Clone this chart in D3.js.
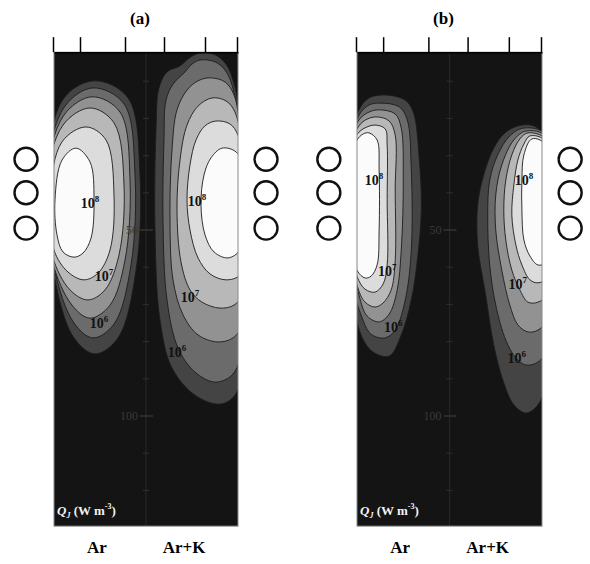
<!DOCTYPE html>
<html>
<head>
<meta charset="utf-8">
<script src="https://cdn.jsdelivr.net/npm/d3@7"></script>
<style>
  body { margin: 0; background: #fff; }
  svg { display: block; font-family: "Liberation Serif", "Times New Roman", serif; }
</style>
</head>
<body>
<div id="chart"></div>
<script>
// ---------- data ----------
const panelNames = ["(a)", "(b)"];
const gasNames = ["Ar", "Ar+K"];
const levels = [5.5, 6, 6.5, 7, 7.5, 8];          // log10 Qj of each contour, outermost first
const xTicks = [-46.5, -33, -10.5, 9, 29.5, 45.5];
const depthMajor = [50, 100];
const depthMinor = [10, 20, 30, 40, 60, 70, 80, 90, 110, 120];
const depthExtent = [2.2, 129.6];
const coilDepths = [31, 40, 49.5];
const coilX = [-60, 60];

// contour outlines, [x, depth] points, one list per level (outermost first)
const aAr = [
  [[-25.5,9.9],[-9,14.5],[-3,35.2],[-5,60.8],[-14,79],[-25.5,83.3],[-36,79],[-46,62],[-50,35.2],[-41,14.5]],
  [[-26.5,11.8],[-11,16.1],[-5.5,35.2],[-7.5,59.4],[-16,75.3],[-26.5,79],[-36,75],[-46,60],[-50,35.2],[-40.5,16.7]],
  [[-27,14.2],[-13,18.3],[-8,36.6],[-10.5,58.1],[-18,70.2],[-28,73.7],[-37,70.2],[-47,58],[-50,36.6],[-41,19.1]],
  [[-28,17.2],[-16,21.2],[-11,37.9],[-13.5,56.7],[-20.5,66.1],[-29,68.8],[-38,66.1],[-47,56.7],[-50,37.9],[-41.5,21.8]],
  [[-30,22.3],[-20,25.8],[-16,40.6],[-18,55.4],[-24,61.6],[-31,63.4],[-39,61.3],[-46,55.4],[-48,40.6],[-42,26.3]],
  [[-35,28],[-28,31.7],[-26,41.9],[-27.5,52.2],[-31.5,56.2],[-36,57.3],[-41.5,55.9],[-44.5,51.3],[-45.5,41.9],[-42,31.2]]
];
const aArK = [
  [[27,2.4],[34.5,2.9],[40,5.4],[43.5,9.7],[47,20.4],[50,55.4],[49,84.9],[44.5,94.4],[37,96.8],[24.5,94.4],[13,87.1],[7,74.2],[4.5,50],[5,23.1],[6.5,11.8],[10.5,7.5],[17,5.9],[21.5,3.8]],
  [[27,4.3],[34.5,4.8],[39.5,7],[43,11],[46,20.4],[50,55.4],[48,82.3],[43,89],[34.5,90.9],[24.5,88.2],[16,81.7],[10.5,68.8],[8.5,47.3],[9,25.8],[10,15.1],[13.5,10.8],[19.5,7.5],[23,5.4]],
  [[32,9.1],[39.5,10.2],[44,13.7],[47,23.1],[50,55.4],[48,75.5],[43.5,79],[36,80.1],[26,78.2],[18.5,72.8],[13.5,63.4],[12,47.3],[13,28.5],[15.5,17.7],[20.5,12.4],[26,9.9]],
  [[33,14.5],[40,15.3],[44.5,18.3],[48,28.5],[50,55.4],[48,67.5],[44,70.2],[37,71],[28,69.4],[22,66.1],[17.5,58.6],[15.5,44.6],[17,31.2],[20.5,21.8],[26,16.7]],
  [[35,20.7],[42,21.5],[46,24.5],[49,33.9],[50,55.4],[47,62.1],[40,63.4],[32,61.8],[26,57.5],[22,50],[20.5,41.9],[22,32.5],[25,25.8],[29.5,22]],
  [[38,28],[45,29],[49,33.9],[50,47.3],[47,55.4],[41,57.5],[34,55.9],[29.5,51.3],[27.5,43.3],[29,35.2],[32.5,30.6]]
];
const bAr = [
  [[-32,13.7],[-22,15.1],[-18,18.3],[-15,31.2],[-14,44.6],[-16,58.1],[-19,68.8],[-24,78.2],[-30,83.9],[-38,82.8],[-44,78.2],[-49,63.4],[-50,28.5],[-45,17.7],[-40,14.5]],
  [[-34,15.9],[-25,16.9],[-21,20.4],[-19,33.9],[-19,55.4],[-22,68.8],[-27,76.9],[-32,79],[-39,78],[-44,72.8],[-50,60.8],[-50,28.5],[-45,19.1],[-40,16.4]],
  [[-35,17.7],[-27,18.8],[-24,22.6],[-23,36.6],[-24,55.4],[-26,66.1],[-30,72.6],[-35,74.7],[-41,73.1],[-45,67.5],[-50,52.7],[-50,28.5],[-45,20.4],[-40,18.3]],
  [[-36,19.6],[-30,20.7],[-27,24.5],[-27,39.2],[-27,58.1],[-29,66.1],[-33,69.6],[-37,70.7],[-42,69.4],[-46,64.8],[-50,50],[-50,28.5],[-45,22],[-41,20.2]],
  [[-37,21.8],[-32,22.8],[-31,27.2],[-31,41.9],[-31,59.4],[-33,64.5],[-37,66.7],[-42,65.9],[-46,62.4],[-50,47.3],[-50,28.5],[-45,23.7],[-41,22.3]],
  [[-40,23.9],[-36,25.8],[-35,33.9],[-35,50],[-36,59.4],[-39,62.4],[-42,62.9],[-46,60.8],[-50,47.3],[-50,31.2],[-46,25.8],[-43,24.2]]
];
const bArK = [
  [[36,21.8],[43,22.3],[48,25.8],[48,90],[44,97],[38,99.2],[32,97],[27,91.1],[22,80.9],[18,67.5],[14,54],[14,43.3],[17,35.2],[22,28],[28,23.7]],
  [[37,22.6],[48,24.5],[48,82.3],[44,85.5],[38,86.3],[33,84.4],[28,79.6],[23,70.2],[20,59.4],[19,46],[20,36.6],[24,29.8],[30,24.7]],
  [[38,23.4],[48,25],[48,74.2],[44,76.9],[39,77.4],[34,75.5],[30,70.2],[26,60.8],[23,50],[23,40.6],[26,32.5],[32,25.8]],
  [[39,23.9],[48,25.8],[48,67.5],[44,69.4],[39,69.4],[35,66.1],[31,60.8],[28,52.7],[27,44.6],[28,36.6],[31,29.8],[35,25.5]],
  [[40,24.7],[48,26.3],[48,62.9],[44,64.2],[40,63.4],[36,59.4],[33,54],[31,46],[32,37.9],[34,31.2],[37,26.9]],
  [[41,25.5],[48,27.2],[48,58.6],[44,59.4],[40,57],[37,52.7],[36,44.6],[36,36.6],[37,29.8]]
];

// contour labels: [x, depth, exponent]
const aArLab = [[-28,42.7,8],[-21,62.4,7],[-23.5,75,6]];
const aArKLab = [[25.5,42.2,8],[22,68,7],[15.5,82.8,6]];
const bArLab = [[-37.5,36.6,8],[-31,61,7],[-28,76.1,6]];
const bArKLab = [[37,36.6,8],[34,64.5,7],[33.5,84.4,6]];

// ---------- drawing ----------
const width = 590, height = 564;
const fills = ["#444444", "#6b6b6b", "#929292", "#b8b8b8", "#dcdcdc", "#fbfbfb"];

const svg = d3.select("#chart").append("svg")
  .attr("width", width)
  .attr("height", height);

const y = d3.scaleLinear().domain([0, 100]).range([44, 416]);

const panels = [
  { title: panelNames[0], range: [54, 238], sets: [aAr, aArK], labels: [aArLab, aArKLab] },
  { title: panelNames[1], range: [357, 542], sets: [bAr, bArK], labels: [bArLab, bArKLab] }
];

panels.forEach((p, pi) => {
  const x = d3.scaleLinear().domain([-46, 46]).range(p.range);
  const top = y(depthExtent[0]), bottom = y(depthExtent[1]);
  const g = svg.append("g");

  svg.append("clipPath").attr("id", "clip" + pi)
    .append("rect")
    .attr("x", x(-46)).attr("y", top)
    .attr("width", x(46) - x(-46)).attr("height", bottom - top);

  // dark background
  g.append("rect")
    .attr("x", x(-46)).attr("y", top)
    .attr("width", x(46) - x(-46)).attr("height", bottom - top)
    .attr("fill", "#141414");

  const line = d3.line()
    .x(d => x(d[0]))
    .y(d => y(d[1]))
    .curve(d3.curveCatmullRomClosed.alpha(0.5));

  const field = g.append("g").attr("clip-path", `url(#clip${pi})`);
  p.sets.forEach(set => {
    set.forEach((pts, li) => {
      field.append("path")
        .attr("d", line(pts))
        .attr("fill", fills[li])
        .attr("stroke", "#1c1c1c")
        .attr("stroke-width", 0.9);
    });
  });

  // centre line and depth axis
  g.append("line")
    .attr("x1", x(0)).attr("x2", x(0))
    .attr("y1", top).attr("y2", bottom)
    .attr("stroke", "#262626").attr("stroke-width", 1.2);

  depthMinor.forEach(d => {
    g.append("line")
      .attr("x1", x(0) - 3).attr("x2", x(0) + 3)
      .attr("y1", y(d)).attr("y2", y(d))
      .attr("stroke", "#2c2c2c").attr("stroke-width", 1.2);
  });
  depthMajor.forEach(d => {
    g.append("line")
      .attr("x1", x(0) - 6).attr("x2", x(0) + 7)
      .attr("y1", y(d)).attr("y2", y(d))
      .attr("stroke", "#333").attr("stroke-width", 1.5);
    g.append("text")
      .attr("x", x(0) - 8).attr("y", y(d) + 4)
      .attr("text-anchor", "end")
      .attr("font-size", 12)
      .attr("fill", "#3a3a3a")
      .text(d);
  });

  // frame
  g.append("rect")
    .attr("x", x(-46)).attr("y", top)
    .attr("width", x(46) - x(-46)).attr("height", bottom - top)
    .attr("fill", "none")
    .attr("stroke", "#8a8a8a").attr("stroke-width", 1);

  // top ticks
  g.append("g")
    .attr("transform", `translate(0,${top})`)
    .call(d3.axisTop(x).tickValues(xTicks).tickSize(15).tickSizeOuter(0).tickFormat(""))
    .call(a => a.selectAll("line,path").attr("stroke", "#000").attr("stroke-width", 1.5));

  // contour labels
  p.labels.forEach(labs => {
    labs.forEach(([lx, ld, e]) => {
      const t = g.append("text")
        .attr("x", x(lx)).attr("y", y(ld) + 5)
        .attr("text-anchor", "middle")
        .attr("font-size", 14)
        .attr("font-weight", "bold")
        .attr("fill", "#111");
      t.append("tspan").text("10");
      t.append("tspan").attr("dy", -6).attr("font-size", 9).text(e);
    });
  });

  // coils
  coilX.forEach(cx => {
    coilDepths.forEach(cd => {
      g.append("circle")
        .attr("cx", x(cx)).attr("cy", y(cd))
        .attr("r", 11.5)
        .attr("fill", "#fff")
        .attr("stroke", "#111")
        .attr("stroke-width", 2.4);
    });
  });

  // Qj unit label
  const q = g.append("text")
    .attr("x", x(-46) + 3).attr("y", y(depthExtent[1]) - 11)
    .attr("font-size", 13)
    .attr("font-weight", "bold")
    .attr("fill", "#f2f2f2");
  q.append("tspan").attr("font-style", "italic").text("Q");
  q.append("tspan").attr("font-style", "italic").attr("font-size", 8).attr("dy", 3).text("J");
  q.append("tspan").attr("dy", -3).text(" (W m");
  q.append("tspan").attr("font-size", 8).attr("dy", -6).text("-3");
  q.append("tspan").attr("dy", 6).text(")");

  // title and gas names
  svg.append("text")
    .attr("x", x(-3)).attr("y", 24)
    .attr("text-anchor", "middle")
    .attr("font-size", 17)
    .attr("font-weight", "bold")
    .text(p.title);

  [-24.5, 19].forEach((gx, i) => {
    svg.append("text")
      .attr("x", x(gx)).attr("y", 553)
      .attr("text-anchor", "middle")
      .attr("font-size", 17)
      .attr("font-weight", "bold")
      .text(gasNames[i]);
  });
});
</script>
</body>
</html>
